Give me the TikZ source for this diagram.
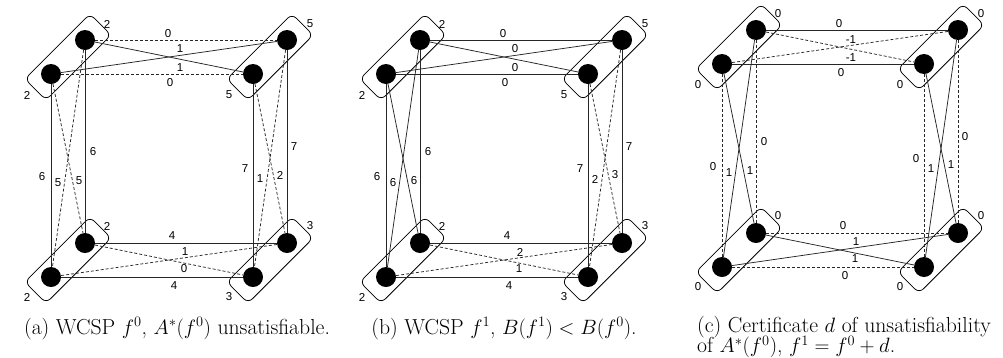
\documentclass[tikz,border=0pt]{standalone}
\usepackage{fontspec}
\newfontfamily\lblfont{Liberation Sans}
\usetikzlibrary{calc}
\tikzset{
  dot/.style={circle, fill=black, inner sep=0pt, minimum size=20pt},
  grp/.style={draw, line width=0.75pt, rounded corners=6pt, rotate=45,
              minimum width=92pt, minimum height=30pt, inner sep=0pt},
  sl/.style={line width=0.75pt, draw=black!85},
  dl/.style={sl, dash pattern=on 3pt off 2pt},
  lbl/.style={font=\lblfont\fontsize{11.5}{12}\selectfont, inner sep=0pt},
  captxt/.style={font={\fontsize{21.7}{20.5}\selectfont\lineskiplimit=-20pt}, inner sep=0pt}
}
% nodes of one panel: #1 prefix, #2..#5 group labels TL, TR, BL, BR
\newcommand\mkpanel[5]{%
  \node[grp] (#1gTL) at (68,57) {};
  \node[grp] (#1gTR) at (270,57) {};
  \node[grp] (#1gBL) at (68,260) {};
  \node[grp] (#1gBR) at (270,260) {};
  \node[lbl] (#1tTLu) at (107,24) {#2};
  \node[lbl] (#1tTLl) at (27,95) {#2};
  \node[lbl] (#1tTRu) at (310,24) {#3};
  \node[lbl] (#1tTRl) at (229,95) {#3};
  \node[lbl] (#1tBLu) at (107,226) {#4};
  \node[lbl] (#1tBLl) at (27,297) {#4};
  \node[lbl] (#1tBRu) at (310,226) {#5};
  \node[lbl] (#1tBRl) at (229,297) {#5};
  \node[dot] (#1a1) at (85,40) {};
  \node[dot] (#1a2) at (51,74) {};
  \node[dot] (#1b1) at (287,40) {};
  \node[dot] (#1b2) at (253,74) {};
  \node[dot] (#1c1) at (85,243) {};
  \node[dot] (#1c2) at (51,277) {};
  \node[dot] (#1d1) at (287,243) {};
  \node[dot] (#1d2) at (253,277) {};
}
\begin{document}
\begin{tikzpicture}[x=1pt, y=-1pt]
\useasboundingbox (0,0) rectangle (1003,357);
% ---------------- panel (a)
\begin{scope}
  \mkpanel{A}{2}{5}{2}{3}
  % top
  \draw[dl] (Aa1) -- (Ab1) node[lbl] at (168,34) {0};
  \draw[sl] (Aa1) -- (Ab2) node[lbl] at (180,49) {1};
  \draw[sl] (Aa2) -- (Ab1) node[lbl] at (180,68) {1};
  \draw[dl] (Aa2) -- (Ab2) node[lbl] at (170,83) {0};
  % left
  \draw[sl] (Aa2) -- (Ac2) node[lbl] at (42,177) {6};
  \draw[dl] (Aa1) -- (Ac2) node[lbl] at (58,183) {5};
  \draw[dl] (Aa2) -- (Ac1) node[lbl] at (79,181) {5};
  \draw[sl] (Aa1) -- (Ac1) node[lbl] at (93,152) {6};
  % right
  \draw[sl] (Ab2) -- (Ad2) node[lbl] at (245,169) {7};
  \draw[dl] (Ab1) -- (Ad2) node[lbl] at (260,179) {1};
  \draw[dl] (Ab2) -- (Ad1) node[lbl] at (280,175) {2};
  \draw[sl] (Ab1) -- (Ad1) node[lbl] at (294,147) {7};
  % bottom
  \draw[sl] (Ac1) -- (Ad1) node[lbl] at (172,236) {4};
  \draw[dl] (Ac2) -- (Ad1) node[lbl] at (185,252) {1};
  \draw[dl] (Ac1) -- (Ad2) node[lbl] at (184,269) {0};
  \draw[sl] (Ac2) -- (Ad2) node[lbl] at (174,286) {4};
\end{scope}
% ---------------- panel (b)
\begin{scope}[shift={(335,0)}]
  \mkpanel{B}{2}{5}{2}{3}
  \draw[sl] (Ba1) -- (Bb1) node[lbl] at (168,34) {0};
  \draw[sl] (Ba1) -- (Bb2) node[lbl] at (180,49) {0};
  \draw[sl] (Ba2) -- (Bb1) node[lbl] at (180,68) {0};
  \draw[sl] (Ba2) -- (Bb2) node[lbl] at (170,83) {0};
  \draw[sl] (Ba2) -- (Bc2) node[lbl] at (42,177) {6};
  \draw[sl] (Ba1) -- (Bc2) node[lbl] at (58,183) {6};
  \draw[sl] (Ba2) -- (Bc1) node[lbl] at (79,181) {6};
  \draw[sl] (Ba1) -- (Bc1) node[lbl] at (93,152) {6};
  \draw[sl] (Bb2) -- (Bd2) node[lbl] at (245,169) {7};
  \draw[dl] (Bb1) -- (Bd2) node[lbl] at (260,179) {2};
  \draw[dl] (Bb2) -- (Bd1) node[lbl] at (280,175) {3};
  \draw[sl] (Bb1) -- (Bd1) node[lbl] at (294,147) {7};
  \draw[sl] (Bc1) -- (Bd1) node[lbl] at (172,236) {4};
  \draw[dl] (Bc2) -- (Bd1) node[lbl] at (185,252) {2};
  \draw[dl] (Bc1) -- (Bd2) node[lbl] at (184,269) {1};
  \draw[sl] (Bc2) -- (Bd2) node[lbl] at (174,286) {4};
\end{scope}
% ---------------- panel (c)
\begin{scope}[shift={(671,-10)}]
  \mkpanel{C}{0}{0}{0}{0}
  \draw[sl] (Ca1) -- (Cb1) node[lbl] at (168,34) {0};
  \draw[dl] (Ca1) -- (Cb2) node[lbl] at (180,50) {-1};
  \draw[dl] (Ca2) -- (Cb1) node[lbl] at (180,68) {-1};
  \draw[sl] (Ca2) -- (Cb2) node[lbl] at (170,83) {0};
  \draw[dl] (Ca2) -- (Cc2) node[lbl] at (42,177) {0};
  \draw[sl] (Ca1) -- (Cc2) node[lbl] at (58,183) {1};
  \draw[sl] (Ca2) -- (Cc1) node[lbl] at (79,181) {1};
  \draw[dl] (Ca1) -- (Cc1) node[lbl] at (93,152) {0};
  \draw[dl] (Cb2) -- (Cd2) node[lbl] at (245,169) {0};
  \draw[sl] (Cb1) -- (Cd2) node[lbl] at (260,179) {1};
  \draw[sl] (Cb2) -- (Cd1) node[lbl] at (280,175) {1};
  \draw[dl] (Cb1) -- (Cd1) node[lbl] at (294,147) {0};
  \draw[dl] (Cc1) -- (Cd1) node[lbl] at (172,236) {0};
  \draw[sl] (Cc2) -- (Cd1) node[lbl] at (185,252) {1};
  \draw[sl] (Cc1) -- (Cd2) node[lbl] at (184,269) {1};
  \draw[dl] (Cc2) -- (Cd2) node[lbl] at (174,286) {0};
\end{scope}
% ---------------- captions
\node[captxt, anchor=base] (capA) at (177,334) {(a) WCSP $f^0$, $A^*(f^0)$ unsatisfiable.};
\node[captxt, anchor=base] (capB) at (504,334) {(b) WCSP $f^1$, $B(f^1) < B(f^0)$.};
\node[captxt, anchor=north west, align=left] (capC) at (697,316)
  {(c) Certificate $d$ of unsatisfiability\\of $A^*(f^0)$, $f^1 = f^0 + d$.};
\end{tikzpicture}
\end{document}
